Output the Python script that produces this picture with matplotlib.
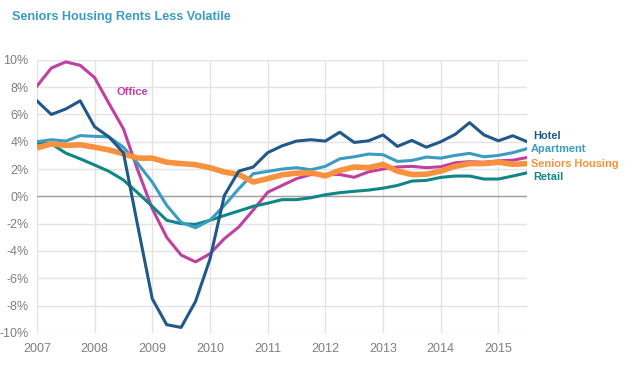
import numpy as np
import matplotlib.pyplot as plt

plt.rcParams['font.family'] = ['Liberation Sans', 'DejaVu Sans']

# quarterly, 2007 Q1 .. 2015 Q3
quarters = 2007 + np.arange(35) * 0.25

hotel = [7.0, 6.0, 6.4, 7.0, 5.1, 4.35, 3.2, -2.2, -7.5, -9.4, -9.6, -7.7,
         -4.6, 0.07, 1.85, 2.15, 3.2, 3.7, 4.05, 4.15, 4.05, 4.7, 3.95, 4.07,
         4.5, 3.66, 4.1, 3.6, 4.0, 4.54, 5.4, 4.5, 4.07, 4.44, 4.0]
apartment = [4.0, 4.15, 4.05, 4.45, 4.4, 4.35, 3.6, 2.4, 1.05, -0.66, -1.9, -2.3,
             -1.75, -0.66, 0.56, 1.66, 1.83, 2.0, 2.1, 1.95, 2.2, 2.75, 2.9, 3.1,
             3.05, 2.56, 2.63, 2.88, 2.8, 3.0, 3.15, 2.9, 3.0, 3.2, 3.5]
office = [8.07, 9.4, 9.85, 9.6, 8.7, 6.8, 4.95, 1.9, -0.9, -3.0, -4.3, -4.8,
          -4.2, -3.1, -2.24, -1.0, 0.3, 0.8, 1.3, 1.6, 1.6, 1.6, 1.4, 1.8,
          2.0, 2.15, 2.2, 2.1, 2.17, 2.46, 2.54, 2.5, 2.6, 2.65, 2.85]
seniors = [3.55, 3.85, 3.73, 3.78, 3.6, 3.4, 3.12, 2.8, 2.8, 2.5, 2.4, 2.32,
           2.1, 1.78, 1.6, 1.05, 1.3, 1.58, 1.7, 1.73, 1.5, 1.9, 2.15, 2.1,
           2.34, 1.85, 1.6, 1.62, 1.85, 2.2, 2.4, 2.4, 2.5, 2.35, 2.4]
retail = [3.9, 3.85, 3.17, 2.75, 2.3, 1.83, 1.2, 0.25, -0.73, -1.75, -2.0, -2.05,
          -1.75, -1.4, -1.07, -0.73, -0.5, -0.24, -0.24, -0.1, 0.12, 0.27, 0.37, 0.46,
          0.6, 0.8, 1.12, 1.17, 1.39, 1.49, 1.49, 1.27, 1.27, 1.49, 1.73]

years = list(range(2007, 2016))
yticks = list(range(-10, 11, 2))

c_hotel = '#21588a'
c_apt = '#3a9cc2'
c_office = '#c040a0'
c_sen = '#f7913d'
c_retail = '#108686'
c_title = '#3a9cc2'
c_tick = '#7f7f7f'

fig = plt.figure(figsize=(6.36, 3.65), dpi=100)
ax = fig.add_axes([0.058, 0.088, 0.771, 0.748])

ax.plot(quarters, office, color=c_office, lw=2.2, zorder=3)
ax.plot(quarters, retail, color=c_retail, lw=2.2, zorder=3)
ax.plot(quarters, apartment, color=c_apt, lw=2.2, zorder=3)
ax.plot(quarters, seniors, color=c_sen, lw=4, zorder=4, solid_capstyle='butt')
ax.plot(quarters, hotel, color=c_hotel, lw=2.2, zorder=5)

ax.set_xlim(2007, 2015.5)
ax.set_ylim(-10, 10)
ax.set_xticks(years)
ax.set_xticklabels([str(y) for y in years])
ax.set_yticks(yticks)
ax.set_yticklabels([f'{v}%' for v in yticks])
ax.grid(True, color='#e3e3e3', lw=1)
ax.axhline(0, color='#a0a0a0', lw=1, zorder=2)
for s in ax.spines.values():
    s.set_visible(False)
ax.tick_params(length=0, labelsize=9, colors=c_tick)
ax.tick_params(axis='y', pad=6)
ax.tick_params(axis='x', pad=7)

fig.text(0.019, 0.953, 'Seniors Housing Rents Less Volatile', color=c_title,
         fontsize=9.1, fontweight='bold', va='center')

ax.text(2008.38, 7.4, 'Office', color=c_office, fontsize=8, fontweight='bold')
lab = dict(fontsize=7.9, fontweight='bold', va='center', clip_on=False)
ax.text(2015.6, 4.45, 'Hotel', color=c_hotel, **lab)
ax.text(2015.56, 3.45, 'Apartment', color=c_apt, **lab)
ax.text(2015.56, 2.4, 'Seniors Housing', color=c_sen, **lab)
ax.text(2015.6, 1.4, 'Retail', color=c_retail, **lab)

fig.savefig('out.png', dpi=100)
